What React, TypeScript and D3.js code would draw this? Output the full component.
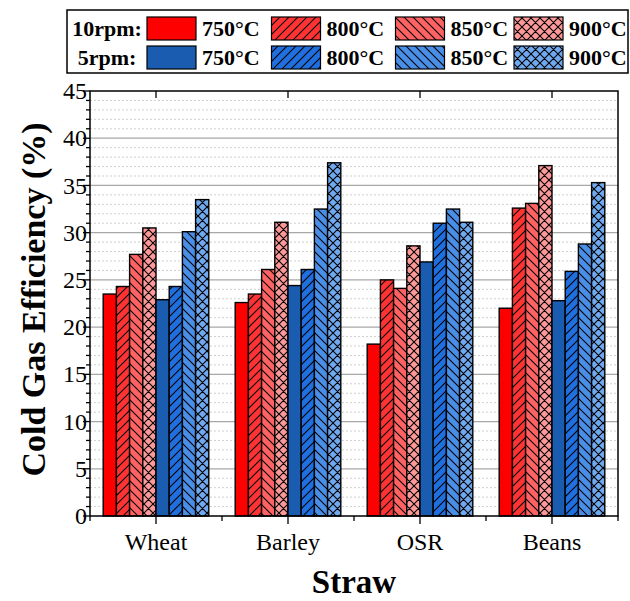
import React from "react";
import * as d3 from "d3";

const categories = ["Wheat", "Barley", "OSR", "Beans"];
const rpm10_750 = [23.5, 22.6, 18.2, 22.0];
const rpm10_800 = [24.3, 23.5, 25.0, 32.6];
const rpm10_850 = [27.7, 26.1, 24.1, 33.1];
const rpm10_900 = [30.5, 31.1, 28.6, 37.1];
const rpm5_750 = [22.9, 24.4, 26.9, 22.8];
const rpm5_800 = [24.3, 26.1, 31.0, 25.9];
const rpm5_850 = [30.1, 32.5, 32.5, 28.8];
const rpm5_900 = [33.5, 37.4, 31.1, 35.3];
const temps = ["750°C", "800°C", "850°C", "900°C"];
const yTicks = [0, 5, 10, 15, 20, 25, 30, 35, 40, 45];

const seriesList = [
  { key: "r750", values: rpm10_750, color: "#ff0000", pat: "none" },
  { key: "r800", values: rpm10_800, color: "#ff3333", pat: "fwd" },
  { key: "r850", values: rpm10_850, color: "#ff6262", pat: "back" },
  { key: "r900", values: rpm10_900, color: "#ff9999", pat: "cross" },
  { key: "b750", values: rpm5_750, color: "#1a5cb0", pat: "none" },
  { key: "b800", values: rpm5_800, color: "#1f6fdf", pat: "fwd" },
  { key: "b850", values: rpm5_850, color: "#4a8fe7", pat: "back" },
  { key: "b900", values: rpm5_900, color: "#6faaf0", pat: "cross" },
];

const W = 630, H = 601;
const left = 90, right = 618, top = 91, bottom = 516;

function fillOf(s: { key: string; color: string; pat: string }) {
  return s.pat === "none" ? s.color : `url(#p-${s.key})`;
}

function Pattern({ id, color, pat }: { id: string; color: string; pat: string }) {
  const s = 9;
  const fwd = `M0,${s} L${s},0 M${-s / 2},${s / 2} L${s / 2},${-s / 2} M${s / 2},${s * 1.5} L${s * 1.5},${s / 2}`;
  const back = `M0,0 L${s},${s} M${-s / 2},${s / 2} L${s / 2},${s * 1.5} M${s / 2},${-s / 2} L${s * 1.5},${s / 2}`;
  const d = pat === "fwd" ? fwd : pat === "back" ? back : fwd + " " + back;
  return (
    <pattern id={id} patternUnits="userSpaceOnUse" width={s} height={s}>
      <rect width={s} height={s} fill={color} />
      <path d={d} stroke="#000" strokeWidth={1.1} fill="none" />
    </pattern>
  );
}

export default function App() {
  const x = d3.scaleLinear().domain([0.5, 4.5]).range([left, right]);
  const y = d3.scaleLinear().domain([0, 45]).range([bottom, top]);
  const groupW = (x(1) - x(0)) * 0.8;
  const bw = groupW / seriesList.length;
  const minor = d3.range(0, 46, 1);
  const serif = "'Liberation Serif', 'Times New Roman', Times, serif";

  const legendX = [147, 271.5, 395.5, 514];
  const legendRows = [
    { label: "10rpm:", y: 17, series: seriesList.slice(0, 4) },
    { label: "5rpm:", y: 46, series: seriesList.slice(4) },
  ];

  return (
    <svg width={W} height={H} style={{ position: "absolute", left: 0, top: 0, fontFamily: serif }}>
      <defs>
        {seriesList.filter((s) => s.pat !== "none").map((s) => (
          <Pattern key={s.key} id={`p-${s.key}`} color={s.color} pat={s.pat} />
        ))}
      </defs>
      <rect width={W} height={H} fill="#fff" />
      {minor.filter((v) => v % 5 !== 0).map((v) => (
        <line key={"mg" + v} x1={left} x2={right} y1={y(v)} y2={y(v)} stroke="#cfcfcf" strokeWidth={1} strokeDasharray="2,2" />
      ))}
      {yTicks.filter((v) => v > 0 && v < 45).map((v) => (
        <line key={"g" + v} x1={left} x2={right} y1={y(v)} y2={y(v)} stroke="#a8a8a8" strokeWidth={1.2} />
      ))}
      {categories.map((c, ci) =>
        seriesList.map((s, si) => {
          const x0 = x(ci + 1) - groupW / 2 + si * bw;
          const v = s.values[ci];
          return (
            <rect key={c + s.key} x={x0} y={y(v)} width={bw} height={y(0) - y(v)} fill={fillOf(s)} stroke="#000" strokeWidth={1.4} />
          );
        })
      )}
      <rect x={left} y={top} width={right - left} height={bottom - top} fill="none" stroke="#000" strokeWidth={1.5} />
      {minor.map((v) => (
        <line key={"yt" + v} x1={left - (v % 5 === 0 ? 7 : 4)} x2={left} y1={y(v)} y2={y(v)} stroke="#000" strokeWidth={1.3} />
      ))}
      {yTicks.map((v) => (
        <text key={"yl" + v} x={left - 3} y={y(v)} dy="0.34em" textAnchor="end" fontSize={24}>{v}</text>
      ))}
      {categories.map((c, i) => (
        <g key={"xt" + c}>
          <line x1={x(i + 1)} x2={x(i + 1)} y1={bottom} y2={bottom + 8} stroke="#000" strokeWidth={1.3} />
          <line x1={x(i + 1)} x2={x(i + 1)} y1={top} y2={top + 7} stroke="#000" strokeWidth={1.3} />
          <text x={x(i + 1)} y={550} textAnchor="middle" fontSize={24}>{c}</text>
        </g>
      ))}
      {d3.range(0.5, 4.6, 1).map((v) => (
        <line key={"xm" + v} x1={x(v)} x2={x(v)} y1={bottom} y2={bottom + 5} stroke="#000" strokeWidth={1.3} />
      ))}
      <text x={left + (right - left) / 2} y={593} textAnchor="middle" fontSize={33} fontWeight="bold">Straw</text>
      <text transform={`translate(45,${(top + bottom) / 2 - 4}) rotate(-90)`} textAnchor="middle" fontSize={34} fontWeight="bold">Cold Gas Efficiency (%)</text>
      <rect x={67} y={10} width={561} height={63} fill="#fff" stroke="#000" strokeWidth={1.5} />
      {legendRows.map((row) => (
        <g key={row.label}>
          <text x={107} y={row.y + 19} textAnchor="middle" fontSize={22} fontWeight="bold">{row.label}</text>
          {row.series.map((s, i) => (
            <g key={s.key}>
              <rect x={legendX[i]} y={row.y} width={49} height={23} fill={fillOf(s)} stroke="#000" strokeWidth={1.2} />
              <text x={legendX[i] + 55} y={row.y + 19} fontSize={22} fontWeight="bold">{temps[i]}</text>
            </g>
          ))}
        </g>
      ))}
    </svg>
  );
}
